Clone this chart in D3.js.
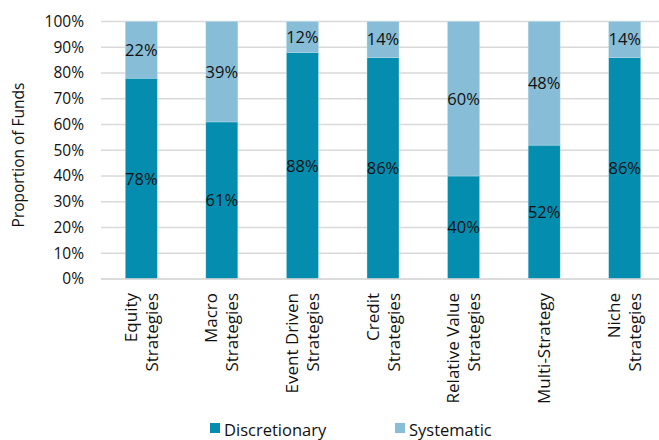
<!DOCTYPE html>
<html><head><meta charset="utf-8">
<script src="https://cdn.jsdelivr.net/npm/d3@7"></script>
<style>
body{margin:0;background:#fff;}
svg{display:block;font-family:"Open Sans","Noto Sans",sans-serif;}
</style></head>
<body>
<svg id="c" width="659" height="440"></svg>
<script>
const categories = [["Equity","Strategies"],["Macro","Strategies"],["Event Driven","Strategies"],["Credit","Strategies"],["Relative Value","Strategies"],["Multi-Strategy"],["Niche","Strategies"]];
const discretionary = [78,61,88,86,40,52,86];
const systematic = [22,39,12,14,60,48,14];
const seriesNames = ["Discretionary","Systematic"];
const colors = ["#058daf","#87bdd6"];
const yTicks = [0,10,20,30,40,50,60,70,80,90,100];

const svg = d3.select("#c");
const keys = categories.map(c=>c.join(" "));
const x = d3.scaleBand().domain(keys).range([101,665]).paddingInner(0.6).paddingOuter(0.3);
const y = d3.scaleLinear().domain([0,100]).range([279,21.5]);

// gridlines
svg.append("g").selectAll("line").data(yTicks).join("line")
  .attr("x1",101).attr("x2",665).attr("y1",d=>y(d)).attr("y2",d=>y(d))
  .attr("stroke","#d9d9d9").attr("stroke-width",1.3);

// y axis labels
const yAxis = d3.axisLeft(y).tickValues(yTicks).tickFormat(d=>d+"%").tickSize(0).tickPadding(0);
const gy = svg.append("g").attr("transform","translate(84,0)").call(yAxis);
gy.select(".domain").remove();
gy.selectAll("text").attr("font-size",15.5).attr("fill","#111").attr("font-family","Open Sans");

// stacked data
const rows = keys.map((k,i)=>({key:k,Discretionary:discretionary[i],Systematic:systematic[i]}));
const stack = d3.stack().keys(seriesNames)(rows);
const bw = 32;
stack.forEach((s,si)=>{
  svg.append("g").selectAll("rect").data(s).join("rect")
    .attr("x",d=>x(d.data.key)+x.bandwidth()/2-bw/2)
    .attr("width",bw)
    .attr("y",d=>y(d[1]))
    .attr("height",d=>y(d[0])-y(d[1]))
    .attr("fill",colors[si])
    .attr("stroke","#bfe0ec").attr("stroke-width",0.4);
  svg.append("g").selectAll("text").data(s).join("text")
    .attr("x",d=>x(d.data.key)+x.bandwidth()/2)
    .attr("y",d=>y((d[0]+d[1])/2))
    .attr("dy","0.36em")
    .attr("text-anchor","middle")
    .attr("font-size",16.5).attr("fill","#111")
    .text(d=>(d[1]-d[0])+"%");
});

// baseline
svg.append("line").attr("x1",101).attr("x2",665).attr("y1",y(0)).attr("y2",y(0))
  .attr("stroke","#d9d9d9").attr("stroke-width",1.3);

// x labels
const lh = 21;
categories.forEach((lines,i)=>{
  const cx = x(keys[i])+x.bandwidth()/2;
  const n = lines.length;
  lines.forEach((t,j)=>{
    const off = (j-(n-1)/2)*lh;
    svg.append("text")
      .attr("transform",`translate(${cx+off+6},293) rotate(-90)`)
      .attr("text-anchor","end")
      .attr("font-size",17).attr("fill","#111")
      .text(t);
  });
});

// y title
svg.append("text").attr("transform","translate(24,155) rotate(-90)")
  .attr("text-anchor","middle").attr("font-size",15.5).attr("fill","#111")
  .text("Proportion of Funds");

// legend
const legX = [210,395];
seriesNames.forEach((n,i)=>{
  svg.append("rect").attr("x",legX[i]).attr("y",423).attr("width",10).attr("height",10).attr("fill",colors[i]);
  svg.append("text").attr("x",legX[i]+14).attr("y",435.5).attr("font-size",16.5).attr("fill","#111").text(n);
});
</script>
</body></html>
